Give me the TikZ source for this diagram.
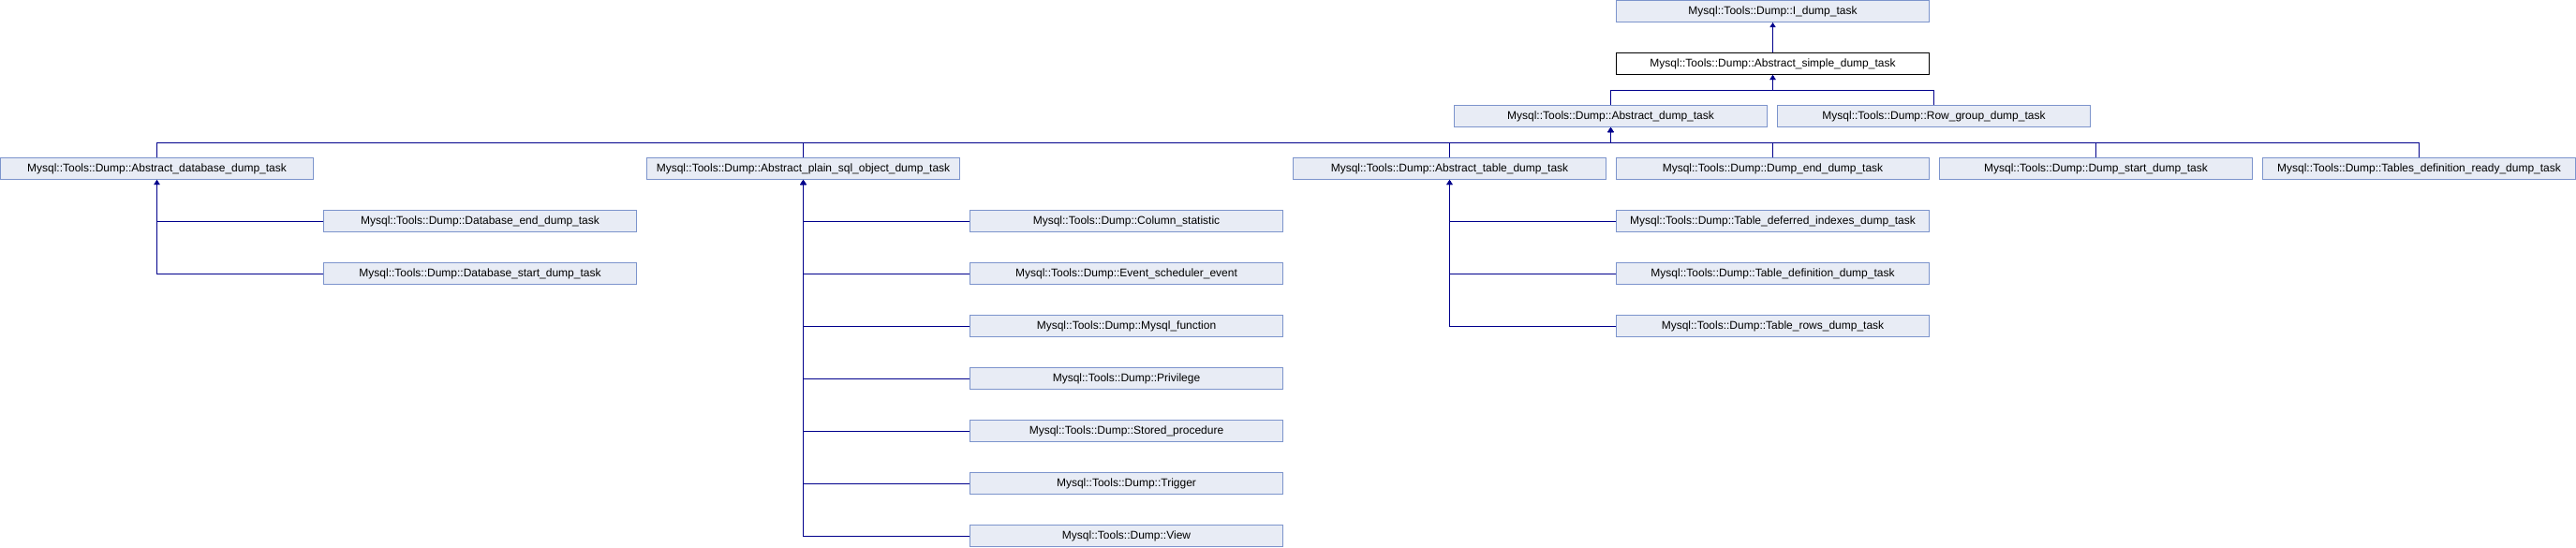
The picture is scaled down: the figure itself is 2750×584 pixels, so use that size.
\documentclass[tikz,border=0pt]{standalone}
\usepackage{fontspec}
\setmainfont{Liberation Sans}
\usetikzlibrary{arrows.meta}
\definecolor{boxfill}{RGB}{232,236,245}
\definecolor{boxborder}{RGB}{124,148,204}
\definecolor{edgecol}{RGB}{0,0,140}
\begin{document}
\begin{tikzpicture}[x=1pt,y=-1pt,
  cls/.style={draw=boxborder, fill=boxfill, line width=1pt, minimum width=334pt,
    minimum height=23pt, inner sep=0pt, font=\fontsize{12}{14}\selectfont},
  cur/.style={cls, draw=black, fill=white},
  edge/.style={draw=edgecol, line width=1pt, -{Triangle[length=5pt,width=6pt]}}]
\useasboundingbox (0,0) rectangle (2750,584);
% row 0-2
\node[cls] (idump) at (1892.5,12) {Mysql::Tools::Dump::I\_dump\_task};
\node[cur] (simple) at (1892.5,68) {Mysql::Tools::Dump::Abstract\_simple\_dump\_task};
\node[cls] (absdump) at (1719.5,124) {Mysql::Tools::Dump::Abstract\_dump\_task};
\node[cls] (rowgroup) at (2064.5,124) {Mysql::Tools::Dump::Row\_group\_dump\_task};
% row 3
\node[cls] (absdb) at (167.5,180) {Mysql::Tools::Dump::Abstract\_database\_dump\_task};
\node[cls] (absplain) at (857.5,180) {Mysql::Tools::Dump::Abstract\_plain\_sql\_object\_dump\_task};
\node[cls] (abstable) at (1547.5,180) {Mysql::Tools::Dump::Abstract\_table\_dump\_task};
\node[cls] (dumpend) at (1892.5,180) {Mysql::Tools::Dump::Dump\_end\_dump\_task};
\node[cls] (dumpstart) at (2237.5,180) {Mysql::Tools::Dump::Dump\_start\_dump\_task};
\node[cls] (tdready) at (2582.5,180) {Mysql::Tools::Dump::Tables\_definition\_ready\_dump\_task};
% database children
\node[cls] (dbend) at (512.5,236) {Mysql::Tools::Dump::Database\_end\_dump\_task};
\node[cls] (dbstart) at (512.5,292) {Mysql::Tools::Dump::Database\_start\_dump\_task};
% plain sql object children
\node[cls] (colstat) at (1202.5,236) {Mysql::Tools::Dump::Column\_statistic};
\node[cls] (event) at (1202.5,292) {Mysql::Tools::Dump::Event\_scheduler\_event};
\node[cls] (func) at (1202.5,348) {Mysql::Tools::Dump::Mysql\_function};
\node[cls] (priv) at (1202.5,404) {Mysql::Tools::Dump::Privilege};
\node[cls] (stored) at (1202.5,460) {Mysql::Tools::Dump::Stored\_procedure};
\node[cls] (trigger) at (1202.5,516) {Mysql::Tools::Dump::Trigger};
\node[cls] (view) at (1202.5,572) {Mysql::Tools::Dump::View};
% table children
\node[cls] (tdefidx) at (1892.5,236) {Mysql::Tools::Dump::Table\_deferred\_indexes\_dump\_task};
\node[cls] (tdef) at (1892.5,292) {Mysql::Tools::Dump::Table\_definition\_dump\_task};
\node[cls] (trows) at (1892.5,348) {Mysql::Tools::Dump::Table\_rows\_dump\_task};
% buses
\coordinate (bus1) at (0,96);
\coordinate (bus2) at (0,152);
% edges
\draw[edge] (simple.north) -- (idump.south);
\foreach \c in {absdump,rowgroup}
  \draw[edge] (\c.north) |- (bus1 -| simple.south) -- (simple.south);
\foreach \c in {absdb,absplain,abstable,dumpend,dumpstart,tdready}
  \draw[edge] (\c.north) |- (bus2 -| absdump.south) -- (absdump.south);
\foreach \c in {dbend,dbstart}
  \draw[edge] (\c.west) -| (absdb.south);
\foreach \c in {colstat,event,func,priv,stored,trigger,view}
  \draw[edge] (\c.west) -| (absplain.south);
\foreach \c in {tdefidx,tdef,trows}
  \draw[edge] (\c.west) -| (abstable.south);
\end{tikzpicture}
\end{document}
